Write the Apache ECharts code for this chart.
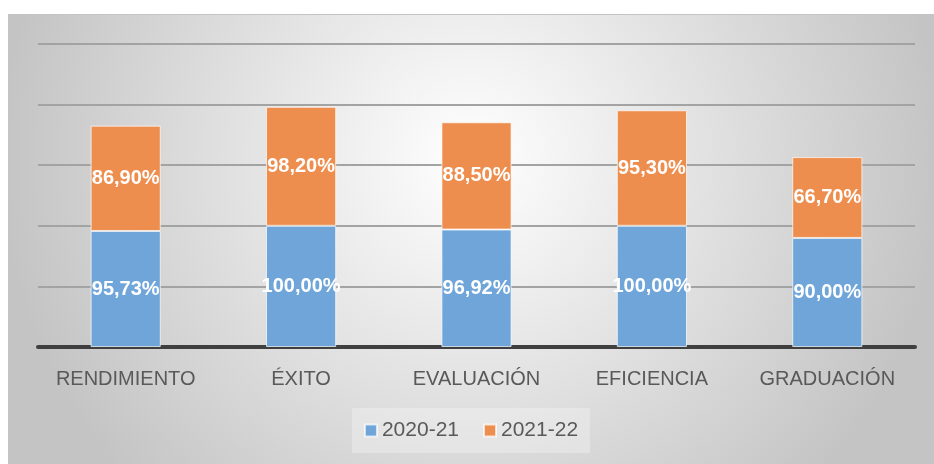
<!DOCTYPE html>
<html>
<head>
<meta charset="utf-8">
<script src="https://cdn.jsdelivr.net/npm/echarts@6/dist/echarts.min.js"></script>
<style>
  body { margin: 0; background: #fff; }
  #chart { position: absolute; left: 8px; top: 14px; width: 926px; height: 450px; border-top: 1px solid #c4c4c4; box-sizing: border-box; }
</style>
</head>
<body>
<div id="chart"></div>
<script>
const categories = ['RENDIMIENTO', 'ÉXITO', 'EVALUACIÓN', 'EFICIENCIA', 'GRADUACIÓN'];
const seriesNames = ['2020-21', '2021-22'];
const values2020 = [95.73, 100.00, 96.92, 100.00, 90.00];
const values2021 = [86.90, 98.20, 88.50, 95.30, 66.70];

const fmt = (p) => p.value.toFixed(2).replace('.', ',') + '%';

const chart = echarts.init(document.getElementById('chart'));

const labelStyle = {
  show: true,
  position: 'inside',
  color: '#fff',
  fontWeight: 'bold',
  fontSize: 20,
  fontFamily: 'Liberation Sans',
  formatter: fmt,
};

const option = {
  backgroundColor: new echarts.graphic.RadialGradient(0.5, 0.32, 1.05, [
    { offset: 0, color: '#ffffff' },
    { offset: 1, color: '#c4c4c4' },
  ]),
  textStyle: { fontFamily: 'Liberation Sans' },
  grid: { left: 30, right: 19, top: 29, bottom: 117 },
  legend: {
    data: seriesNames,
    top: 393,
    left: 'center',
    icon: 'rect',
    itemWidth: 12,
    itemHeight: 12,
    itemGap: 24,
    padding: [12, 12],
    backgroundColor: 'rgba(255,255,255,0.28)',
    textStyle: { fontSize: 21, color: '#595959' },
  },
  xAxis: {
    type: 'category',
    data: categories,
    axisLine: { lineStyle: { color: '#3f3f3f', width: 4 } },
    axisTick: { show: false },
    axisLabel: { fontSize: 20, color: '#595959', margin: 22, interval: 0 },
  },
  yAxis: {
    type: 'value',
    min: 0,
    max: 250,
    interval: 50,
    axisLabel: { show: false },
    axisLine: { show: false },
    splitLine: { lineStyle: { color: '#a3a3a3', width: 2 } },
  },
  series: [
    {
      name: seriesNames[0],
      type: 'bar',
      stack: 'total',
      data: values2020,
      barWidth: '40%',
      itemStyle: { color: '#6fa5d8', borderColor: 'rgba(255,255,255,0.7)', borderWidth: 1 },
      label: labelStyle,
    },
    {
      name: seriesNames[1],
      type: 'bar',
      stack: 'total',
      data: values2021,
      barWidth: '40%',
      itemStyle: { color: '#ee8e4e', borderColor: 'rgba(255,255,255,0.7)', borderWidth: 1 },
      label: labelStyle,
    },
  ],
};

chart.setOption(option);
</script>
</body>
</html>
